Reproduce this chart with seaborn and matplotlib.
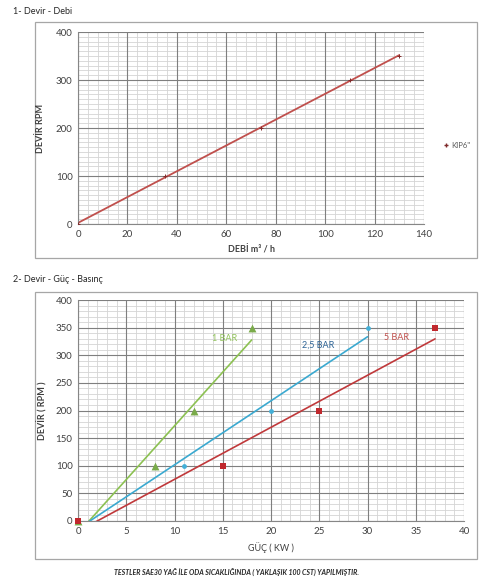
import matplotlib
matplotlib.use("Agg")
import matplotlib.pyplot as plt
from matplotlib.ticker import MultipleLocator
from matplotlib.patches import Rectangle
from matplotlib.lines import Line2D
import seaborn as sns
import pandas as pd

# ---- data ----
debi = [0, 35, 74, 110, 130]
devir_top = [0, 100, 200, 300, 350]
top_series = 'KIP6"'

devir_bottom = [0, 100, 200, 350]
guc_1bar = [0, 8, 12, 18]
guc_25bar = [0, 11, 20, 30]
guc_5bar = [0, 15, 25, 37]
series_names = ["1 BAR", "2,5 BAR", "5 BAR"]

sns.set_theme(style="white")
plt.rcParams['font.family'] = ['Lato', 'DejaVu Sans']

W, H = 495, 580
fig = plt.figure(figsize=(W / 100, H / 100), dpi=100)

def fx(px):
    return px / W

def fy(py):
    return 1 - py / H

def frame(x0, y0, x1, y1):
    fig.add_artist(Rectangle((fx(x0), fy(y1)), fx(x1) - fx(x0), fy(y0) - fy(y1),
                             transform=fig.transFigure, fill=False,
                             edgecolor="#a6a6a6", lw=0.9))

frame(35, 22, 477, 258)
frame(35, 292, 477, 559)

def make_axes(rect, xlim, ylim, xmaj, xmin, ymaj, ymin):
    # background axes: minor grid only
    bg = fig.add_axes(rect, zorder=0)
    bg.set_xlim(*xlim)
    bg.set_ylim(*ylim)
    bg.xaxis.set_major_locator(MultipleLocator(xmin))
    bg.yaxis.set_major_locator(MultipleLocator(ymin))
    bg.grid(which="major", color="#d4d4d4", lw=0.6)
    bg.set_xticklabels([])
    bg.set_yticklabels([])
    bg.tick_params(length=0)
    for s in bg.spines.values():
        s.set_visible(False)
    # main axes: major grid + data
    ax = fig.add_axes(rect, zorder=1)
    ax.patch.set_alpha(0)
    ax.set_xlim(*xlim)
    ax.set_ylim(*ylim)
    ax.xaxis.set_major_locator(MultipleLocator(xmaj))
    ax.yaxis.set_major_locator(MultipleLocator(ymaj))
    ax.grid(which="major", color="#7f7f7f", lw=0.8)
    ax.set_axisbelow(True)
    for s in ["top", "right"]:
        ax.spines[s].set_visible(False)
    for s in ["left", "bottom"]:
        ax.spines[s].set_color("#868686")
        ax.spines[s].set_linewidth(0.8)
    ax.tick_params(which="both", length=0, labelsize=7, colors="#404040", pad=4)
    return ax

# ---- top chart ----
rect1 = [fx(78), fy(224), fx(424) - fx(78), fy(32) - fy(224)]
ax1 = make_axes(rect1, (0, 140), (0, 400), 20, 4, 100, 10)
df_top = pd.DataFrame({"debi": debi, "devir": devir_top})
sns.regplot(data=df_top, x="debi", y="devir", ax=ax1, ci=None, scatter=False,
            line_kws=dict(color="#c0504d", lw=1.3))
sns.scatterplot(data=df_top, x="debi", y="devir", ax=ax1, marker="+",
                color="#7f2a2a", s=8, linewidth=0.7, zorder=5)
ax1.set_xlim(0, 140)
ax1.set_ylim(0, 400)
ax1.set_xlabel("DEBİ m³ / h", fontsize=6.5, fontweight="bold", color="#404040", labelpad=5)
ax1.set_ylabel("DEVİR RPM", fontsize=6.5, fontweight="bold", color="#404040", labelpad=8)
handle = Line2D([], [], marker="+", color="#7f2a2a", lw=0, markersize=3)
ax1.legend([handle], [top_series], loc="center left",
           bbox_to_anchor=(fx(437), fy(145)), bbox_transform=fig.transFigure,
           frameon=False, fontsize=5.5, handlelength=0.6, handletextpad=0.4,
           labelcolor="#595959")

# ---- bottom chart ----
rect2 = [fx(78), fy(521), fx(464) - fx(78), fy(300) - fy(521)]
ax2 = make_axes(rect2, (0, 40), (0, 400), 5, 1, 50, 10)
guc_lists = [guc_1bar, guc_25bar, guc_5bar]
line_colors = ["#8cc152", "#3ba9d0", "#c0393b"]
mark_colors = ["#7aab4a", "#43b0d8", "#c0282d"]
markers = ["^", "o", "s"]
sizes = [32, 12, 20]
for name, g, lc in zip(series_names, guc_lists, line_colors):
    d = pd.DataFrame({"guc": g, "devir": devir_bottom})
    sns.regplot(data=d, x="guc", y="devir", ax=ax2, ci=None, scatter=False,
                line_kws=dict(color=lc, lw=1.2))
for name, g, mc, mk, sz in zip(series_names, guc_lists, mark_colors, markers, sizes):
    d = pd.DataFrame({"guc": g, "devir": devir_bottom})
    sns.scatterplot(data=d, x="guc", y="devir", ax=ax2, marker=mk, color=mc,
                    s=sz, linewidth=0, zorder=5, clip_on=False)
ax2.set_xlim(0, 40)
ax2.set_ylim(0, 400)
ax2.set_xlabel("GÜÇ ( KW )", fontsize=6.5, color="#404040", labelpad=5)
ax2.set_ylabel("DEVİR ( RPM )", fontsize=6.5, fontweight="bold", color="#404040", labelpad=6)
ax2.text(15.2, 331, "1 BAR", color="#92c35c", fontsize=6.5, ha="center", va="center")
ax2.text(24.9, 318, "2,5 BAR", color="#2e6496", fontsize=6.5, ha="center", va="center")
ax2.text(33.0, 333, "5 BAR", color="#c0504d", fontsize=6.5, ha="center", va="center")

# ---- titles / footer ----
fig.text(fx(13), fy(12), "1- Devir - Debi", fontsize=6.5, color="#262626", va="center")
fig.text(fx(13), fy(279), "2- Devir - Güç - Basınç", fontsize=6.5, color="#262626", va="center")
fig.text(fx(236), fy(572), "TESTLER SAE30 YAĞ İLE ODA SICAKLIĞINDA ( YAKLAŞIK 100 CST) YAPILMIŞTIR.",
         fontsize=5, fontweight="bold", fontstyle="italic", color="#262626",
         ha="center", va="center")

fig.savefig("out.png", dpi=100, facecolor="white")
